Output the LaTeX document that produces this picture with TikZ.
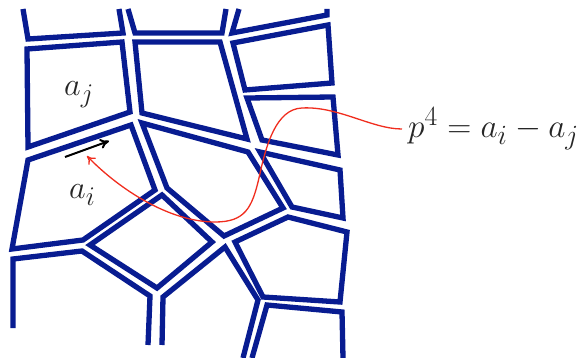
\documentclass[tikz,border=0pt]{standalone}
\usetikzlibrary{arrows.meta}
\definecolor{cellblue}{RGB}{8,28,145}
\definecolor{curvered}{RGB}{240,45,30}
\newcommand{\bigmath}[2][1.3]{\scalebox{#1}{$#2$}}
\begin{document}
\begin{tikzpicture}[x=1pt,y=-1pt,
  cell/.style={draw=cellblue,line width=5.3pt},
  lbl/.style={anchor=base west,inner sep=0pt,font=\Huge,text=black!85},
  redcurve/.style={draw=curvered,line width=1.3pt,-{To[length=8pt,width=10pt]}},
  blackarrow/.style={draw=black,line width=2pt,-{To[length=9pt,width=10pt]}}]
\useasboundingbox (0,0) rectangle (586,358);
% top row (open at top)
\draw[cell] (23,9)--(28,39)--(123,33)--(119,9);
\draw[cell] (128,9)--(135,33)--(222,33)--(226,9);
\draw[cell] (239,9)--(232,33)--(327,15)--(327,9);
% closed cells
\draw[cell] (27,49)--(122,42)--(130,112)--(28,147)--cycle;
\draw[cell] (135,42)--(220,42)--(247,139)--(142,113)--cycle;
\draw[cell] (233,43)--(328,25)--(332,83)--(245,90)--cycle;
\draw[cell] (247,98)--(333,97)--(338,155)--(262,140)--cycle;
\draw[cell] (28,160)--(131,125)--(155,190)--(83,240)--(12,249)--cycle;
\draw[cell] (142,123)--(248,152)--(283,208)--(224,236)--(167,188)--cycle;
\draw[cell] (260,152)--(340,170)--(343,218)--(292,207)--cycle;
\draw[cell] (90,245)--(162,195)--(212,242)--(157,288)--cycle;
\draw[cell] (235,242)--(288,217)--(347,232)--(340,302)--(263,297)--cycle;
% bottom row (open at bottom)
\draw[cell] (13,328)--(13,259)--(82,251)--(150,296)--(148,345);
\draw[cell] (162,345)--(163,297)--(225,247)--(258,300)--(243,358);
\draw[cell] (252,358)--(267,305)--(342,312)--(343,358);
% labels
\node[lbl] (aj) at (64,96) {\bigmath{a_j}};
\node[lbl] (ai) at (69,199) {\bigmath{a_i}};
\node[lbl] (eq) at (408,138) {\bigmath[1.34]{p^4=a_i-a_j}};
% arrows
\coordinate (bstart) at (65,157);
\coordinate (bend) at (109,141);
\draw[blackarrow] (bstart) -- (bend);
\coordinate (redstart) at (402,129);
\coordinate (redtip) at (87,156);
\draw[redcurve] (redstart) .. controls (372,129) and (338,106) .. (302,108)
  .. controls (276,109) and (266,145) .. (259,178)
  .. controls (252,208) and (245,222) .. (215,222)
  .. controls (170,222) and (120,190) .. (redtip);
\end{tikzpicture}
\end{document}
